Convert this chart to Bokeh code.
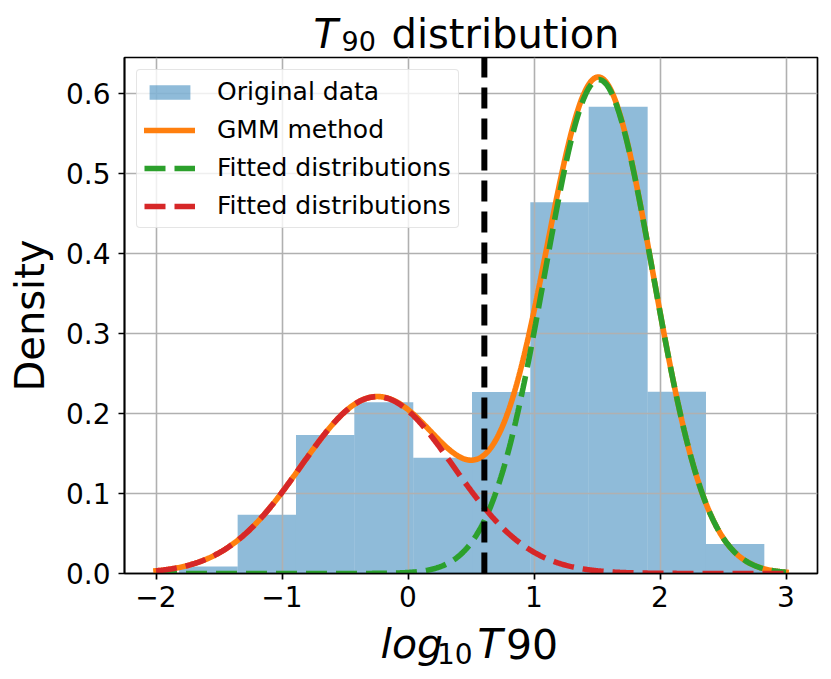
import numpy as np
from bokeh.plotting import figure
from bokeh.layouts import column
from bokeh.models import Range1d, Legend, LegendItem, CustomJSTickFormatter
from bokeh.core.properties import value
from bokeh.embed import file_html
from bokeh.resources import INLINE

# ---------------- data ----------------
bin_edges = [-1.817, -1.352, -0.889, -0.426, 0.042, 0.508, 0.971, 1.434, 1.902, 2.365, 2.828]
bin_density = [0.0088, 0.0734, 0.1730, 0.2140, 0.1446, 0.2268, 0.4638, 0.5830, 0.2270, 0.0367]

gmm_weights = [0.665, 0.335]      # long (green), short (red)
gmm_means = [1.515, -0.245]
gmm_sigmas = [0.430, 0.605]
curve_range = [-2.0, 3.0]
threshold = 0.606

x_ticks = [-2, -1, 0, 1, 2, 3]
x_tick_labels = ["\u22122", "\u22121", "0", "1", "2", "3"]
y_ticks = [0.0, 0.1, 0.2, 0.3, 0.4, 0.5, 0.6]
y_tick_labels = ["0.0", "0.1", "0.2", "0.3", "0.4", "0.5", "0.6"]

series_labels = ["Original data", "GMM method", "Fitted distributions", "Fitted distributions"]
title_parts = ["T", "90", "distribution"]
xlabel_parts = ["log", "10", "T", "90"]
ylabel = "Density"

FONT = "DejaVu Sans"
W = 823
TOP_H, MAIN_H, BOT_H = 56, 562, 53

def no_align(f):
    try:
        f.frame_align = False
        return True
    except Exception:
        return False

# ---------------- main figure ----------------
X0, X1 = -2.25, 3.25
Y0, Y1 = 0.0, 0.6446

p = figure(width=W, height=MAIN_H, output_backend="svg", toolbar_location=None,
           x_range=Range1d(X0, X1), y_range=Range1d(Y0, Y1),
           min_border_left=124, min_border_right=6, min_border_top=1, min_border_bottom=45)
no_align(p)
p.title.visible = False
p.background_fill_color = "white"
p.border_fill_color = "white"
p.outline_line_color = "black"
p.outline_line_width = 1.7
p.outline_line_alpha = 1.0

p.xaxis.ticker = x_ticks
p.yaxis.ticker = y_ticks
p.xaxis.formatter = CustomJSTickFormatter(args=dict(lbls=x_tick_labels, tv=x_ticks),
                                          code="const i = tv.indexOf(Math.round(tick)); return i >= 0 ? lbls[i] : '';")
p.yaxis.formatter = CustomJSTickFormatter(args=dict(lbls=y_tick_labels),
                                          code="return lbls[Math.round(tick * 10)];")
for ax in (p.xaxis[0], p.yaxis[0]):
    ax.major_label_text_font = FONT
    ax.major_label_text_font_size = "28px"
    ax.major_label_text_color = "black"
    ax.axis_line_color = "black"
    ax.axis_line_width = 1.7
    ax.major_tick_line_color = "black"
    ax.major_tick_line_width = 1.7
    ax.major_tick_out = 6
    ax.major_tick_in = 0
    ax.minor_tick_out = 0
    ax.minor_tick_in = 0
p.xaxis.major_label_standoff = 6
p.yaxis.major_label_standoff = 8
p.yaxis.axis_label = ylabel
p.yaxis.axis_label_text_font = FONT
p.yaxis.axis_label_text_font_size = "40px"
p.yaxis.axis_label_text_font_style = "normal"
p.yaxis.axis_label_text_color = "black"
p.yaxis.axis_label_standoff = 10

p.grid.grid_line_color = "#b0b0b0"
p.grid.grid_line_width = 1.6

bars = p.quad(left=bin_edges[:-1], right=bin_edges[1:], bottom=0, top=bin_density,
              fill_color="#1f77b4", fill_alpha=0.5, line_color=None, level="image")

xs = np.linspace(curve_range[0], curve_range[1], 600)
comps = [w / (s * np.sqrt(2 * np.pi)) * np.exp(-(xs - m) ** 2 / (2 * s ** 2))
         for w, m, s in zip(gmm_weights, gmm_means, gmm_sigmas)]
total = comps[0] + comps[1]

LW = 5.6
r_gmm = p.line(xs, total, line_color="#ff7f0e", line_width=LW, line_cap="square")
r_g = p.line(xs, comps[0], line_color="#2ca02c", line_width=LW, line_dash="21 9")
r_r = p.line(xs, comps[1], line_color="#d62728", line_width=LW, line_dash="21 9")
p.line([threshold, threshold], [Y0, Y1], line_color="black", line_width=6, line_dash="21 10")

legend = Legend(items=[LegendItem(label=series_labels[0], renderers=[bars]),
                       LegendItem(label=series_labels[1], renderers=[r_gmm]),
                       LegendItem(label=series_labels[2], renderers=[r_g]),
                       LegendItem(label=series_labels[3], renderers=[r_r])],
                location="top_left", margin=12)
legend.label_text_font = FONT
legend.label_text_font_size = "25px"
legend.label_text_color = "black"
legend.glyph_width = 51
legend.glyph_height = 18
legend.label_standoff = 22
legend.padding = 7
legend.spacing = 9
legend.border_line_color = "#cccccc"
legend.border_line_width = 1.5
legend.background_fill_alpha = 0.8
try:
    legend.border_radius = 4
except Exception:
    pass
p.add_layout(legend)

# ---------------- text strips (title above, x label below) ----------------
def text_strip(h):
    f = figure(width=W, height=h, output_backend="svg", toolbar_location=None,
               x_range=Range1d(0, W), y_range=Range1d(h, 0),
               x_axis_location=None, y_axis_location=None,
               min_border_left=0, min_border_right=0, min_border_top=0, min_border_bottom=0,
               outline_line_color=None)
    if not no_align(f):
        f.x_range = Range1d(124, 817)
    f.title.visible = False
    f.grid.visible = False
    f.background_fill_color = "white"
    f.border_fill_color = "white"
    return f

MID = 0.326  # distance baseline -> vertical middle of the text box, in em

def put(f, text, px, baseline, size, style="normal"):
    f.text(x=[px], y=[baseline - MID * size], text=[text], text_font=value(FONT),
           text_font_size=value(f"{size}px"), text_font_style=style, text_color="black",
           text_align="left", text_baseline="middle")

top = text_strip(TOP_H)
put(top, title_parts[0], 313, 46.3, 40, "italic")
put(top, title_parts[1], 341, 49.5, 27)
put(top, title_parts[2], 391, 46.3, 40)

bot = text_strip(BOT_H)
OFF = TOP_H + MAIN_H
put(bot, xlabel_parts[0], 380, 656.5 - OFF, 41, "italic")
put(bot, xlabel_parts[1], 436.5, 662.5 - OFF, 28)
put(bot, xlabel_parts[2], 477, 656.5 - OFF, 41, "italic")
put(bot, xlabel_parts[3], 505.5, 656.5 - OFF, 41)

layout = column(top, p, bot, spacing=0)
open("out.html", "w").write(file_html(layout, INLINE))
